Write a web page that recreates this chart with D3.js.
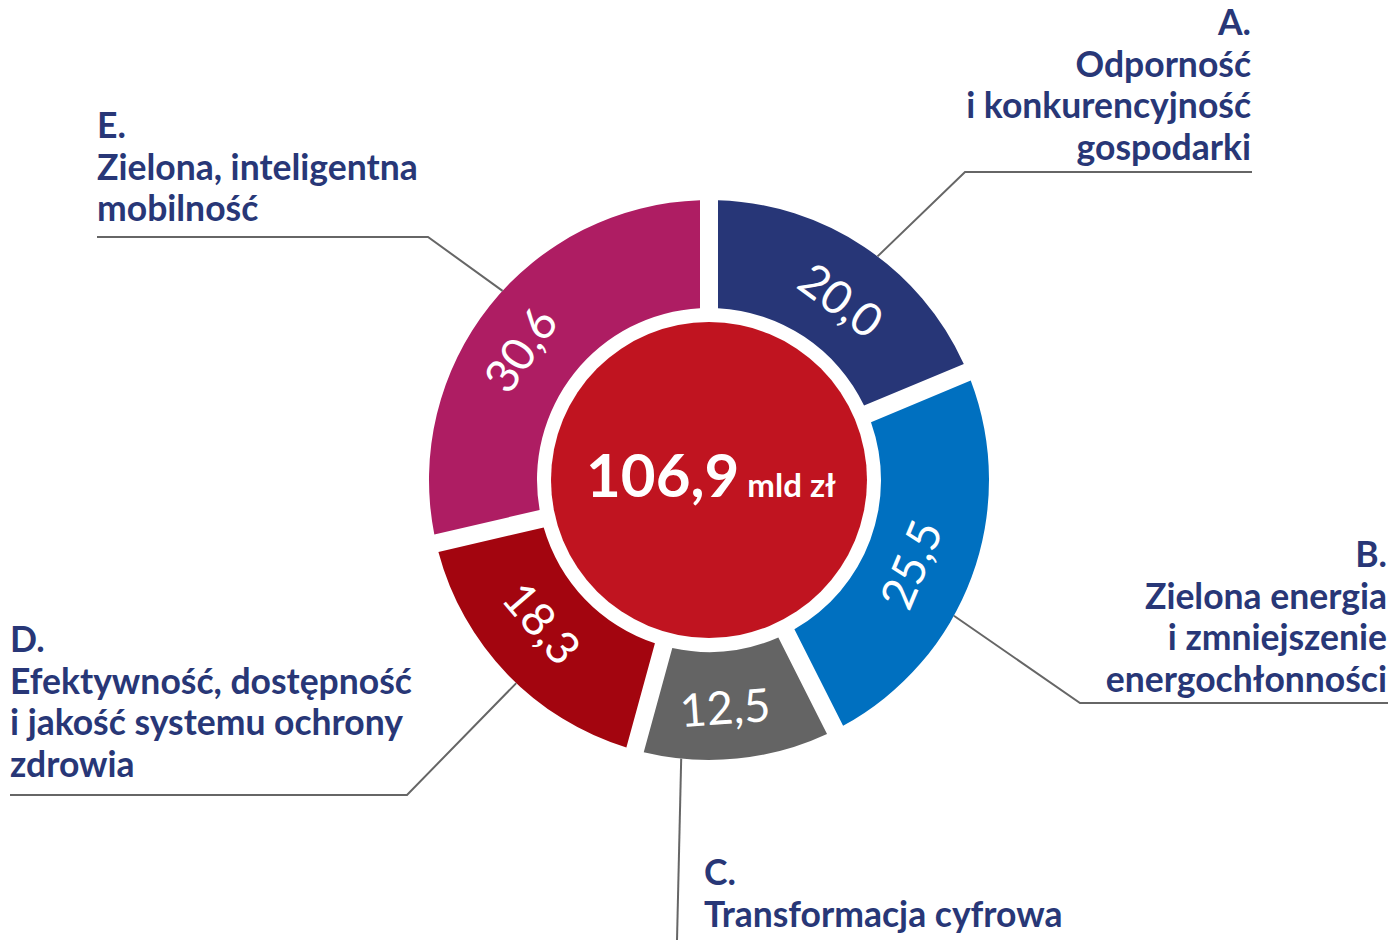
<!DOCTYPE html>
<html lang="pl">
<head>
<meta charset="utf-8">
<title>KPO – podział środków</title>
<script src="https://d3js.org/d3.v7.min.js"></script>
<style>
  body { margin: 0; background: #fff; }
  .lbl { font-family: Lato, "Open Sans", sans-serif; font-weight: 700; fill: #283777; }
  .val { font-family: Lato, "Open Sans", sans-serif; fill: #fff; }
  .leader { fill: none; stroke: #666; stroke-width: 2; }
</style>
</head>
<body>
<div id="chart"></div>
<script>
// data
var codes = ["A", "B", "C", "D", "E"];
var values = [20.0, 25.5, 12.5, 18.3, 30.6];
var valueLabels = ["20,0", "25,5", "12,5", "18,3", "30,6"];
var names = [
  ["Odporność", "i konkurencyjność", "gospodarki"],
  ["Zielona energia", "i zmniejszenie", "energochłonności"],
  ["Transformacja cyfrowa"],
  ["Efektywność, dostępność", "i jakość systemu ochrony", "zdrowia"],
  ["Zielona, inteligentna", "mobilność"]
];
var colors = ["#273677", "#0070c0", "#646464", "#a3050f", "#ae1d63"];
var totalLabel = "106,9";
var unitLabel = "mld zł";

// layout
var W = 1391, H = 940;
var cx = 709, cy = 480;
var rOuter = 280, rInner = 172, rCenter = 158;
var lineH = 41.5, fs = 35.5;

// small hand nudges of the value labels (degrees, radius)
var labShift = [2.6, 2.4, 1.7, 3.3, -3.8];
var labRad = [223, 219, 228, 220, 229];

// annotation layout: angle where leader leaves ring, elbow, end of underline, text anchor
var annot = [
  { ang: 37, elbow: [965, 172], end: 1252, anchor: "end", tx: 1251, top: 35 },
  { ang: 119, elbow: [1080, 703], end: 1388, anchor: "end", tx: 1387, top: 567 },
  { ang: 185.7, elbow: [677, 940], end: null, anchor: "start", tx: 704, top: 885 },
  { ang: 223.5, elbow: [407, 795], end: 10, anchor: "start", tx: 10, top: 652 },
  { ang: 312.5, elbow: [428, 237], end: 97, anchor: "start", tx: 97, top: 138 }
];

var svg = d3.select("#chart").append("svg")
  .attr("width", W).attr("height", H);

var g = svg.append("g").attr("transform", "translate(" + cx + "," + cy + ")");

var pie = d3.pie().sort(null).value(function (d) { return d; });
var arcs = pie(values);

var arc = d3.arc()
  .innerRadius(rInner)
  .outerRadius(rOuter)
  .padAngle(18 / rOuter)
  .padRadius(rOuter);

g.selectAll("path.slice")
  .data(arcs)
  .enter().append("path")
  .attr("class", "slice")
  .attr("d", arc)
  .attr("fill", function (d, i) { return colors[i]; });

// value labels rotated along the ring
g.selectAll("text.val")
  .data(arcs)
  .enter().append("text")
  .attr("class", "val")
  .attr("text-anchor", "middle")
  .attr("dy", "0.36em")
  .style("font-size", "46px")
  .attr("transform", function (d, i) {
    var deg = (d.startAngle + d.endAngle) / 2 * 180 / Math.PI + labShift[i];
    var mid = deg * Math.PI / 180;
    var rot = (deg > 90 && deg < 270) ? deg - 180 : (deg >= 270 ? deg - 360 : deg);
    var x = Math.sin(mid) * labRad[i], y = -Math.cos(mid) * labRad[i];
    return "translate(" + x + "," + y + ") rotate(" + rot + ")";
  })
  .text(function (d, i) { return valueLabels[i]; });

// centre circle
g.append("circle").attr("r", rCenter).attr("fill", "#c01420");
var ct = g.append("text")
  .attr("class", "val")
  .attr("text-anchor", "middle")
  .attr("x", 2)
  .attr("y", 17);
ct.append("tspan").style("font-size", "60px").style("font-weight", 700).text(totalLabel);
ct.append("tspan").style("font-size", "33px").style("font-weight", 700).attr("dx", 8).text(unitLabel);

// leader lines and category labels
annot.forEach(function (a, i) {
  var rad = a.ang * Math.PI / 180;
  var sx = cx + Math.sin(rad) * rOuter, sy = cy - Math.cos(rad) * rOuter;
  var pts = [[sx, sy], a.elbow];
  if (a.end !== null) pts.push([a.end, a.elbow[1]]);
  svg.append("path").attr("class", "leader").attr("d", d3.line()(pts));

  var lines = [codes[i] + "."].concat(names[i]);
  var t = svg.append("text").attr("class", "lbl")
    .attr("text-anchor", a.anchor)
    .style("font-size", fs + "px");
  lines.forEach(function (s, j) {
    t.append("tspan").attr("x", a.tx).attr("y", a.top + j * lineH).text(s);
  });
});
</script>
</body>
</html>
